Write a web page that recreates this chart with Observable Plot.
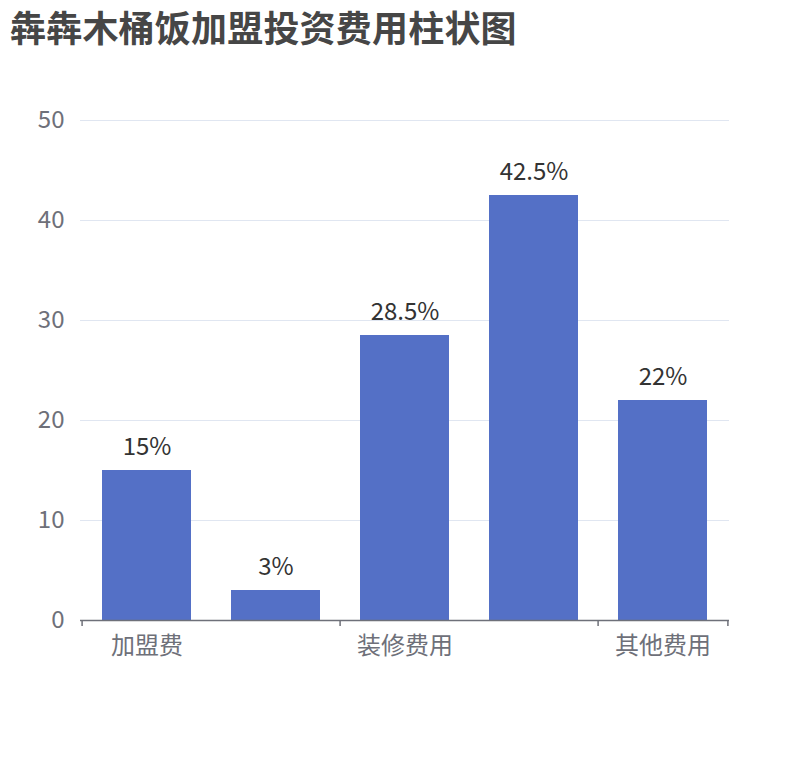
<!DOCTYPE html>
<html>
<head>
<meta charset="utf-8">
<script src="https://cdn.jsdelivr.net/npm/d3@7"></script>
<script src="https://cdn.jsdelivr.net/npm/@observablehq/plot@0.6"></script>
<style>
  body { margin: 0; background: #fff; font-family: "Noto Sans CJK SC", "Noto Sans", sans-serif; }
  #title { position: absolute; left: 10px; top: 4px; font-size: 36px; font-weight: bold; color: #464646; letter-spacing: 0.2px; line-height: 44px; }
  #chart { position: absolute; left: 0; top: 60px; }
</style>
</head>
<body>
<div id="title">犇犇木桶饭加盟投资费用柱状图</div>
<div id="chart"></div>
<script>
const categories = ["加盟费", "保证金", "装修费用", "设备费用", "其他费用"];
const values = [15, 3, 28.5, 42.5, 22];
const valueLabels = ["15%", "3%", "28.5%", "42.5%", "22%"];
const shownLabels = ["加盟费", "装修费用", "其他费用"];
const yTicks = [0, 10, 20, 30, 40, 50];

const data = categories.map((c, i) => ({cat: c, value: values[i], label: valueLabels[i]}));

const width = 810, height = 700;
const mL = 80, mR = 81;
const step = (width - mL - mR) / categories.length;

const chart = Plot.plot({
  width, height,
  marginLeft: mL, marginRight: mR, marginTop: 60, marginBottom: 140,
  style: {fontFamily: '"Noto Sans CJK SC", sans-serif', fontSize: "24px", background: "#fff"},
  x: {domain: categories, paddingInner: 0.31, paddingOuter: 0.155, label: null},
  y: {domain: [0, 50], label: null},
  marks: [
    Plot.gridY(yTicks, {stroke: "#E0E6F1", strokeOpacity: 1, strokeWidth: 1.2}),
    Plot.axisY(yTicks, {tickSize: 0, tickPadding: 16, fill: "#6E7079", fontSize: 24, label: null}),
    Plot.barY(data, {x: "cat", y: "value", fill: "#5470C6"}),
    Plot.text(data, {x: "cat", y: "value", text: "label", dy: -23, fill: "#333", fontSize: 24}),
    Plot.ruleY([0], {stroke: "#6E7079", strokeWidth: 1.5}),
    Plot.axisX([categories[0], categories[2], categories[4]], {tickSize: 6, dx: -step / 2, tickFormat: () => "", stroke: "#6E7079", strokeWidth: 1.5, label: null}),
    Plot.axisX([categories[4]], {tickSize: 6, dx: step / 2, tickFormat: () => "", stroke: "#6E7079", strokeWidth: 1.5, label: null}),
    Plot.axisX(shownLabels, {tickSize: 0, tickPadding: 16, fill: "#6E7079", fontSize: 24, label: null})
  ]
});
document.getElementById("chart").appendChild(chart);
</script>
</body>
</html>
